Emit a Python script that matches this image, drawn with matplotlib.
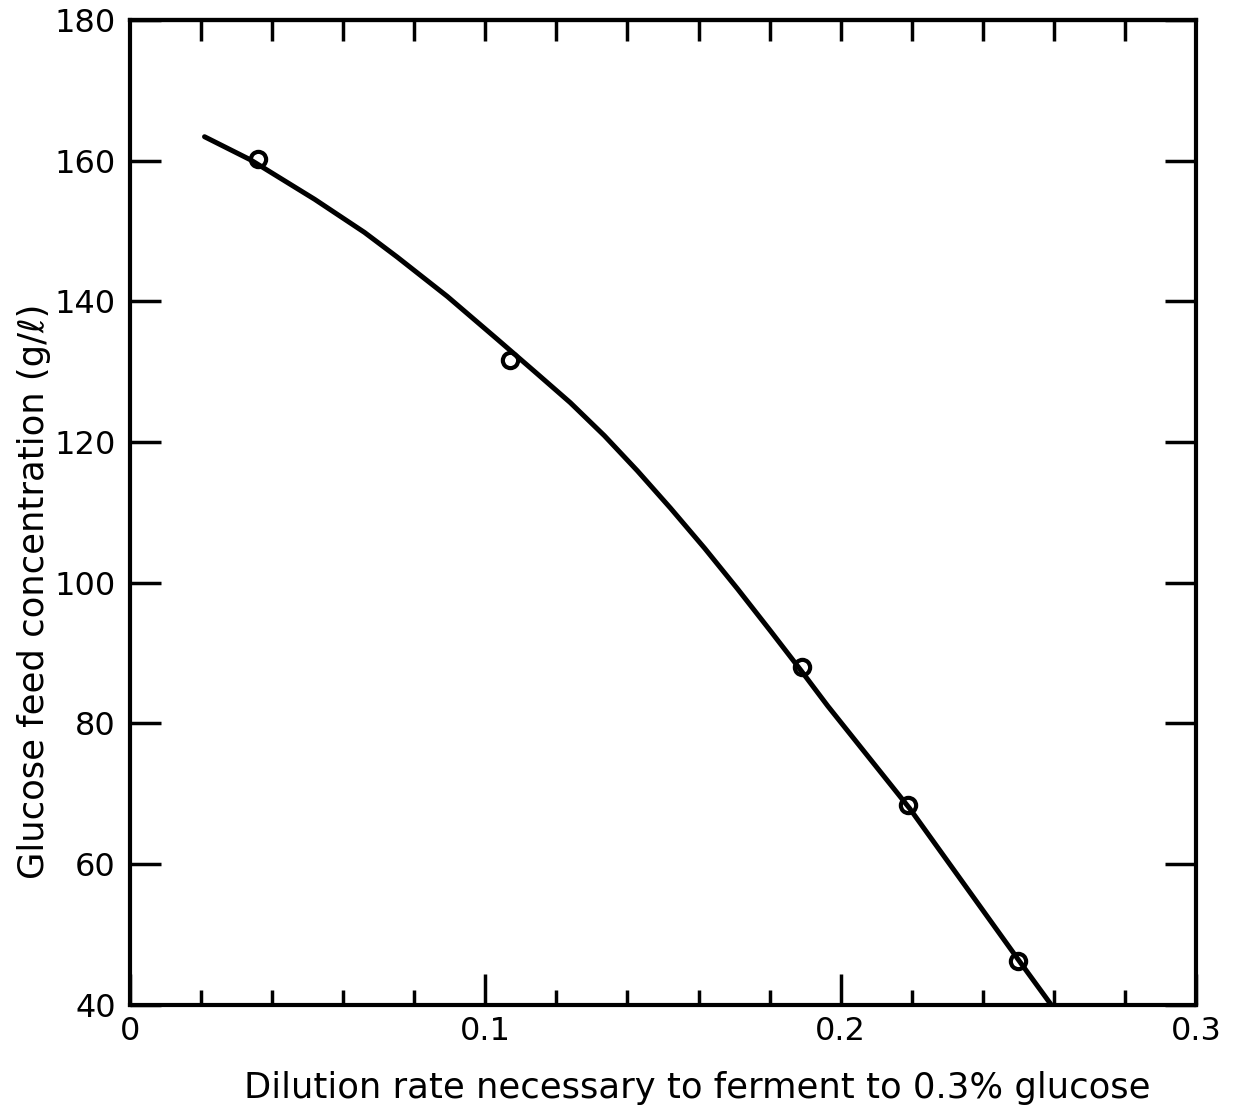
import numpy as np
import matplotlib.pyplot as plt
from matplotlib.ticker import MultipleLocator

# Measured points (dilution rate, glucose feed concentration)
dilution = [0.036, 0.107, 0.189, 0.219, 0.250]
glucose = [160.2, 131.6, 88.0, 68.4, 46.2]

# Hand-drawn fitted curve
curve_x = [0.021, 0.034, 0.052, 0.066, 0.0752, 0.0893, 0.1034, 0.1146, 0.1239,
           0.1335, 0.1428, 0.1521, 0.1617, 0.171, 0.1803, 0.1887, 0.1963,
           0.2194, 0.2504, 0.2592]
curve_y = [163.4, 160.1, 154.5, 149.8, 146.3, 140.7, 134.6, 129.7, 125.6,
           120.9, 115.9, 110.6, 104.9, 99.1, 93.1, 87.6, 82.5,
           67.9, 46.1, 40.0]

x_ticks = [0, 0.1, 0.2, 0.3]
x_tick_labels = ['0', '0.1', '0.2', '0.3']
y_ticks = [40, 60, 80, 100, 120, 140, 160, 180]

plt.rcParams['font.family'] = ['DejaVu Sans']

fig = plt.figure(figsize=(12.37, 11.09), dpi=100)
ax = fig.add_axes([0.105, 0.094, 0.862, 0.888])

# Curve and data points
ax.plot(curve_x, curve_y, color='black', lw=3.6, solid_capstyle='round',
        solid_joinstyle='round')
ax.plot(dilution, glucose, 'o', ms=11, mfc='none', mec='black', mew=3)

ax.set_xlim(0, 0.3)
ax.set_ylim(40, 180)

for s in ax.spines.values():
    s.set_linewidth(3)

# Bottom axis: long major ticks, short minor ticks
ax.set_xticks(x_ticks)
ax.set_xticklabels(x_tick_labels)
ax.xaxis.set_minor_locator(MultipleLocator(0.02))
ax.tick_params(axis='x', which='major', direction='in', length=22, width=2.5,
               labelsize=23, pad=8)
ax.tick_params(axis='x', which='minor', direction='in', length=11, width=2.5)

# Left and right ticks
ax.set_yticks(y_ticks)
ax.tick_params(axis='y', which='major', direction='in', length=22, width=2.5,
               labelsize=23, right=True, pad=10)

# Top ticks every 0.02, no labels
top = ax.secondary_xaxis('top')
top.set_xticks(np.arange(0.02, 0.3, 0.02))
top.tick_params(direction='in', length=15, width=2.5, labeltop=False)
top.spines['top'].set_linewidth(3)

ax.set_xlabel('Dilution rate necessary to ferment to 0.3% glucose', fontsize=25.5, labelpad=14)
ax.xaxis.set_label_coords(0.532, -0.067)
ax.set_ylabel('Glucose feed concentration (g/ℓ)', fontsize=25.5, labelpad=10)
ax.yaxis.set_label_coords(-0.074, 0.42)

fig.savefig('out.png', dpi=100)
